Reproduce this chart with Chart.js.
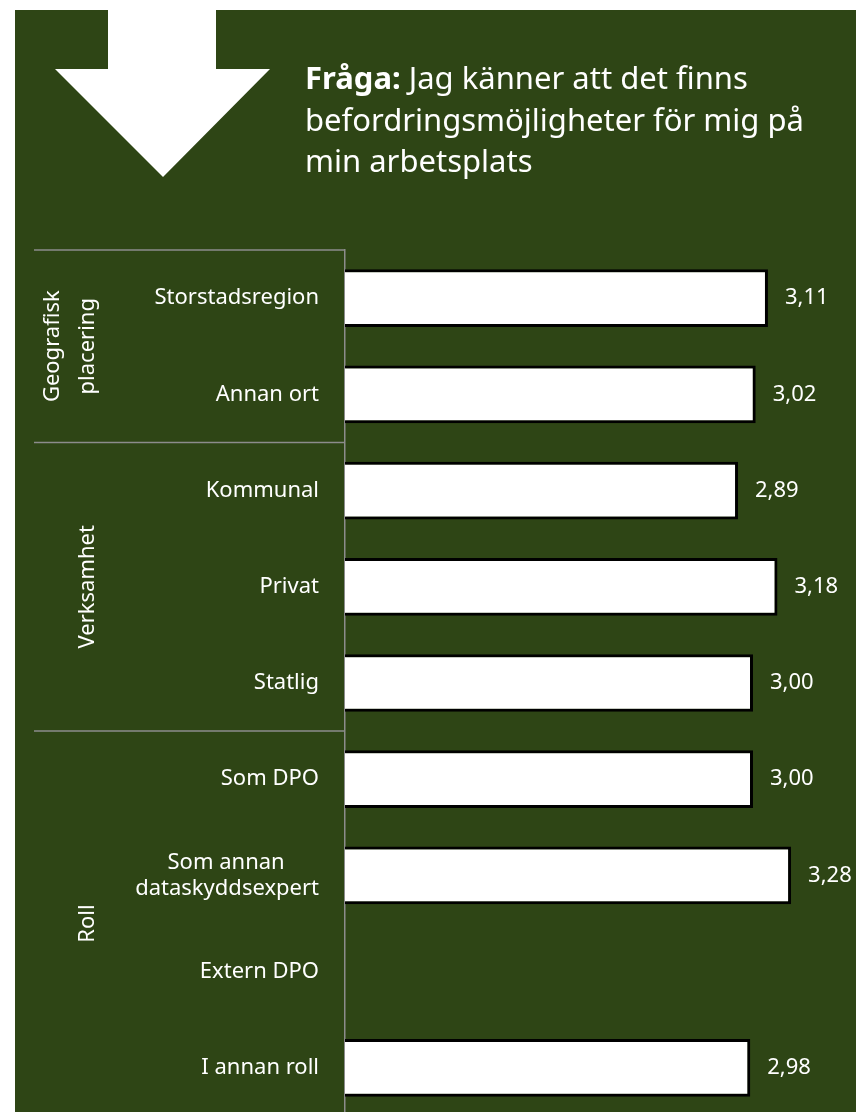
<!DOCTYPE html>
<html lang="sv">
<head>
<meta charset="utf-8">
<title>Befordringsmöjligheter</title>
<script src="https://cdn.jsdelivr.net/npm/chart.js@4.4.1/dist/chart.umd.min.js"></script>
<style>
  html, body { margin: 0; padding: 0; background: #fff; overflow: hidden; }
  #wrap { position: relative; width: 856px; height: 1120px; }
  #chart { position: absolute; left: 0; top: 0; }
  #title {
    position: absolute; left: 305px; top: 57px;
    color: #fff; font-family: "Noto Sans", sans-serif;
    font-size: 31px; line-height: 41.5px; white-space: nowrap;
  }
</style>
</head>
<body>
<div id="wrap">
  <canvas id="chart" width="856" height="1120"></canvas>
  <div id="title"><b>Fråga:</b> Jag känner att det finns<br>befordringsmöjligheter för mig på<br>min arbetsplats</div>
</div>
<script>
const categories = [
  "Storstadsregion",
  "Annan ort",
  "Kommunal",
  "Privat",
  "Statlig",
  "Som DPO",
  ["Som annan", "dataskyddsexpert"],
  "Extern DPO",
  "I annan roll",
];
const values = [3.11, 3.02, 2.89, 3.18, 3.0, 3.0, 3.28, null, 2.98];
const groupNames = [["Geografisk", "placering"], ["Verksamhet"], ["Roll"]];
const groupSizes = [2, 3, 4];

const GREEN = "rgb(46, 69, 21)";
const LINE = "#8c8c8c";
const FONT = "Noto Sans";

// multi-line tick labels are centred on each other, like the original
const measure = document.createElement("canvas").getContext("2d");
measure.font = "22px '" + FONT + "'";
const centerLines = (lines) => {
  const widths = lines.map((l) => measure.measureText(l).width);
  const max = Math.max(...widths);
  const sp = measure.measureText("\u00a0").width;
  return lines.map((l, i) => l + "\u00a0".repeat(Math.round((max - widths[i]) / 2 / sp)));
};

const backdrop = {
  id: "backdrop",
  beforeDraw(chart) {
    const ctx = chart.ctx;
    ctx.save();
    ctx.fillStyle = "#fff";
    ctx.fillRect(0, 0, chart.width, chart.height);
    ctx.fillStyle = GREEN;
    ctx.fillRect(15, 10, chart.width - 15, chart.height - 10);
    // down arrow
    ctx.fillStyle = "#fff";
    ctx.beginPath();
    ctx.moveTo(108, 0);
    ctx.lineTo(216, 0);
    ctx.lineTo(216, 69);
    ctx.lineTo(270, 69);
    ctx.lineTo(163, 177);
    ctx.lineTo(55, 69);
    ctx.lineTo(108, 69);
    ctx.closePath();
    ctx.fill();
    ctx.restore();
  },
};

const groups = {
  id: "groups",
  afterDraw(chart) {
    const ctx = chart.ctx;
    const y = chart.scales.y;
    const band = y.height / categories.length;
    ctx.save();
    ctx.strokeStyle = LINE;
    ctx.lineWidth = 1.5;
    ctx.fillStyle = "#fff";
    ctx.font = "22px '" + FONT + "'";
    ctx.textAlign = "center";
    ctx.textBaseline = "middle";
    let start = 0;
    groupSizes.forEach((n, g) => {
      const top = y.getPixelForValue(start) - band / 2;
      const bottom = y.getPixelForValue(start + n - 1) + band / 2;
      ctx.beginPath();
      ctx.moveTo(34, top);
      ctx.lineTo(y.right, top);
      ctx.stroke();
      const lines = groupNames[g];
      lines.forEach((txt, i) => {
        const x = 88 - (lines.length - 1 - i) * 35;
        ctx.save();
        ctx.translate(x, (top + bottom) / 2);
        ctx.rotate(-Math.PI / 2);
        ctx.fillText(txt, 0, 0);
        ctx.restore();
      });
      start += n;
    });
    // value labels
    ctx.textAlign = "left";
    const meta = chart.getDatasetMeta(0);
    meta.data.forEach((bar, i) => {
      if (values[i] == null) return;
      ctx.fillText(values[i].toFixed(2).replace(".", ","), bar.x + 17, bar.y);
    });
    ctx.restore();
  },
};

new Chart(document.getElementById("chart"), {
  type: "bar",
  data: {
    labels: categories,
    datasets: [
      {
        data: values,
        backgroundColor: "#fff",
        borderColor: "#000",
        borderWidth: 3,
        barPercentage: 0.6,
        categoryPercentage: 1,
      },
    ],
  },
  options: {
    indexAxis: "y",
    responsive: false,
    animation: false,
    layout: { padding: { top: 250, right: 35, bottom: 4, left: 0 } },
    plugins: { legend: { display: false }, tooltip: { enabled: false } },
    scales: {
      x: { display: false, min: 0, max: 3.5 },
      y: {
        afterFit: (s) => {
          s.width = 345;
          s.paddingTop = 0;
          s.paddingBottom = 0;
        },
        grid: { display: false, drawTicks: false },
        border: { display: true, color: LINE, width: 1.5 },
        ticks: {
          color: "#fff",
          padding: 26,
          font: { family: FONT, size: 22 },
          callback: function (value) {
            const label = this.getLabelForValue(value);
            return Array.isArray(label) ? centerLines(label) : label;
          },
        },
      },
    },
  },
  plugins: [backdrop, groups],
});
</script>
</body>
</html>
